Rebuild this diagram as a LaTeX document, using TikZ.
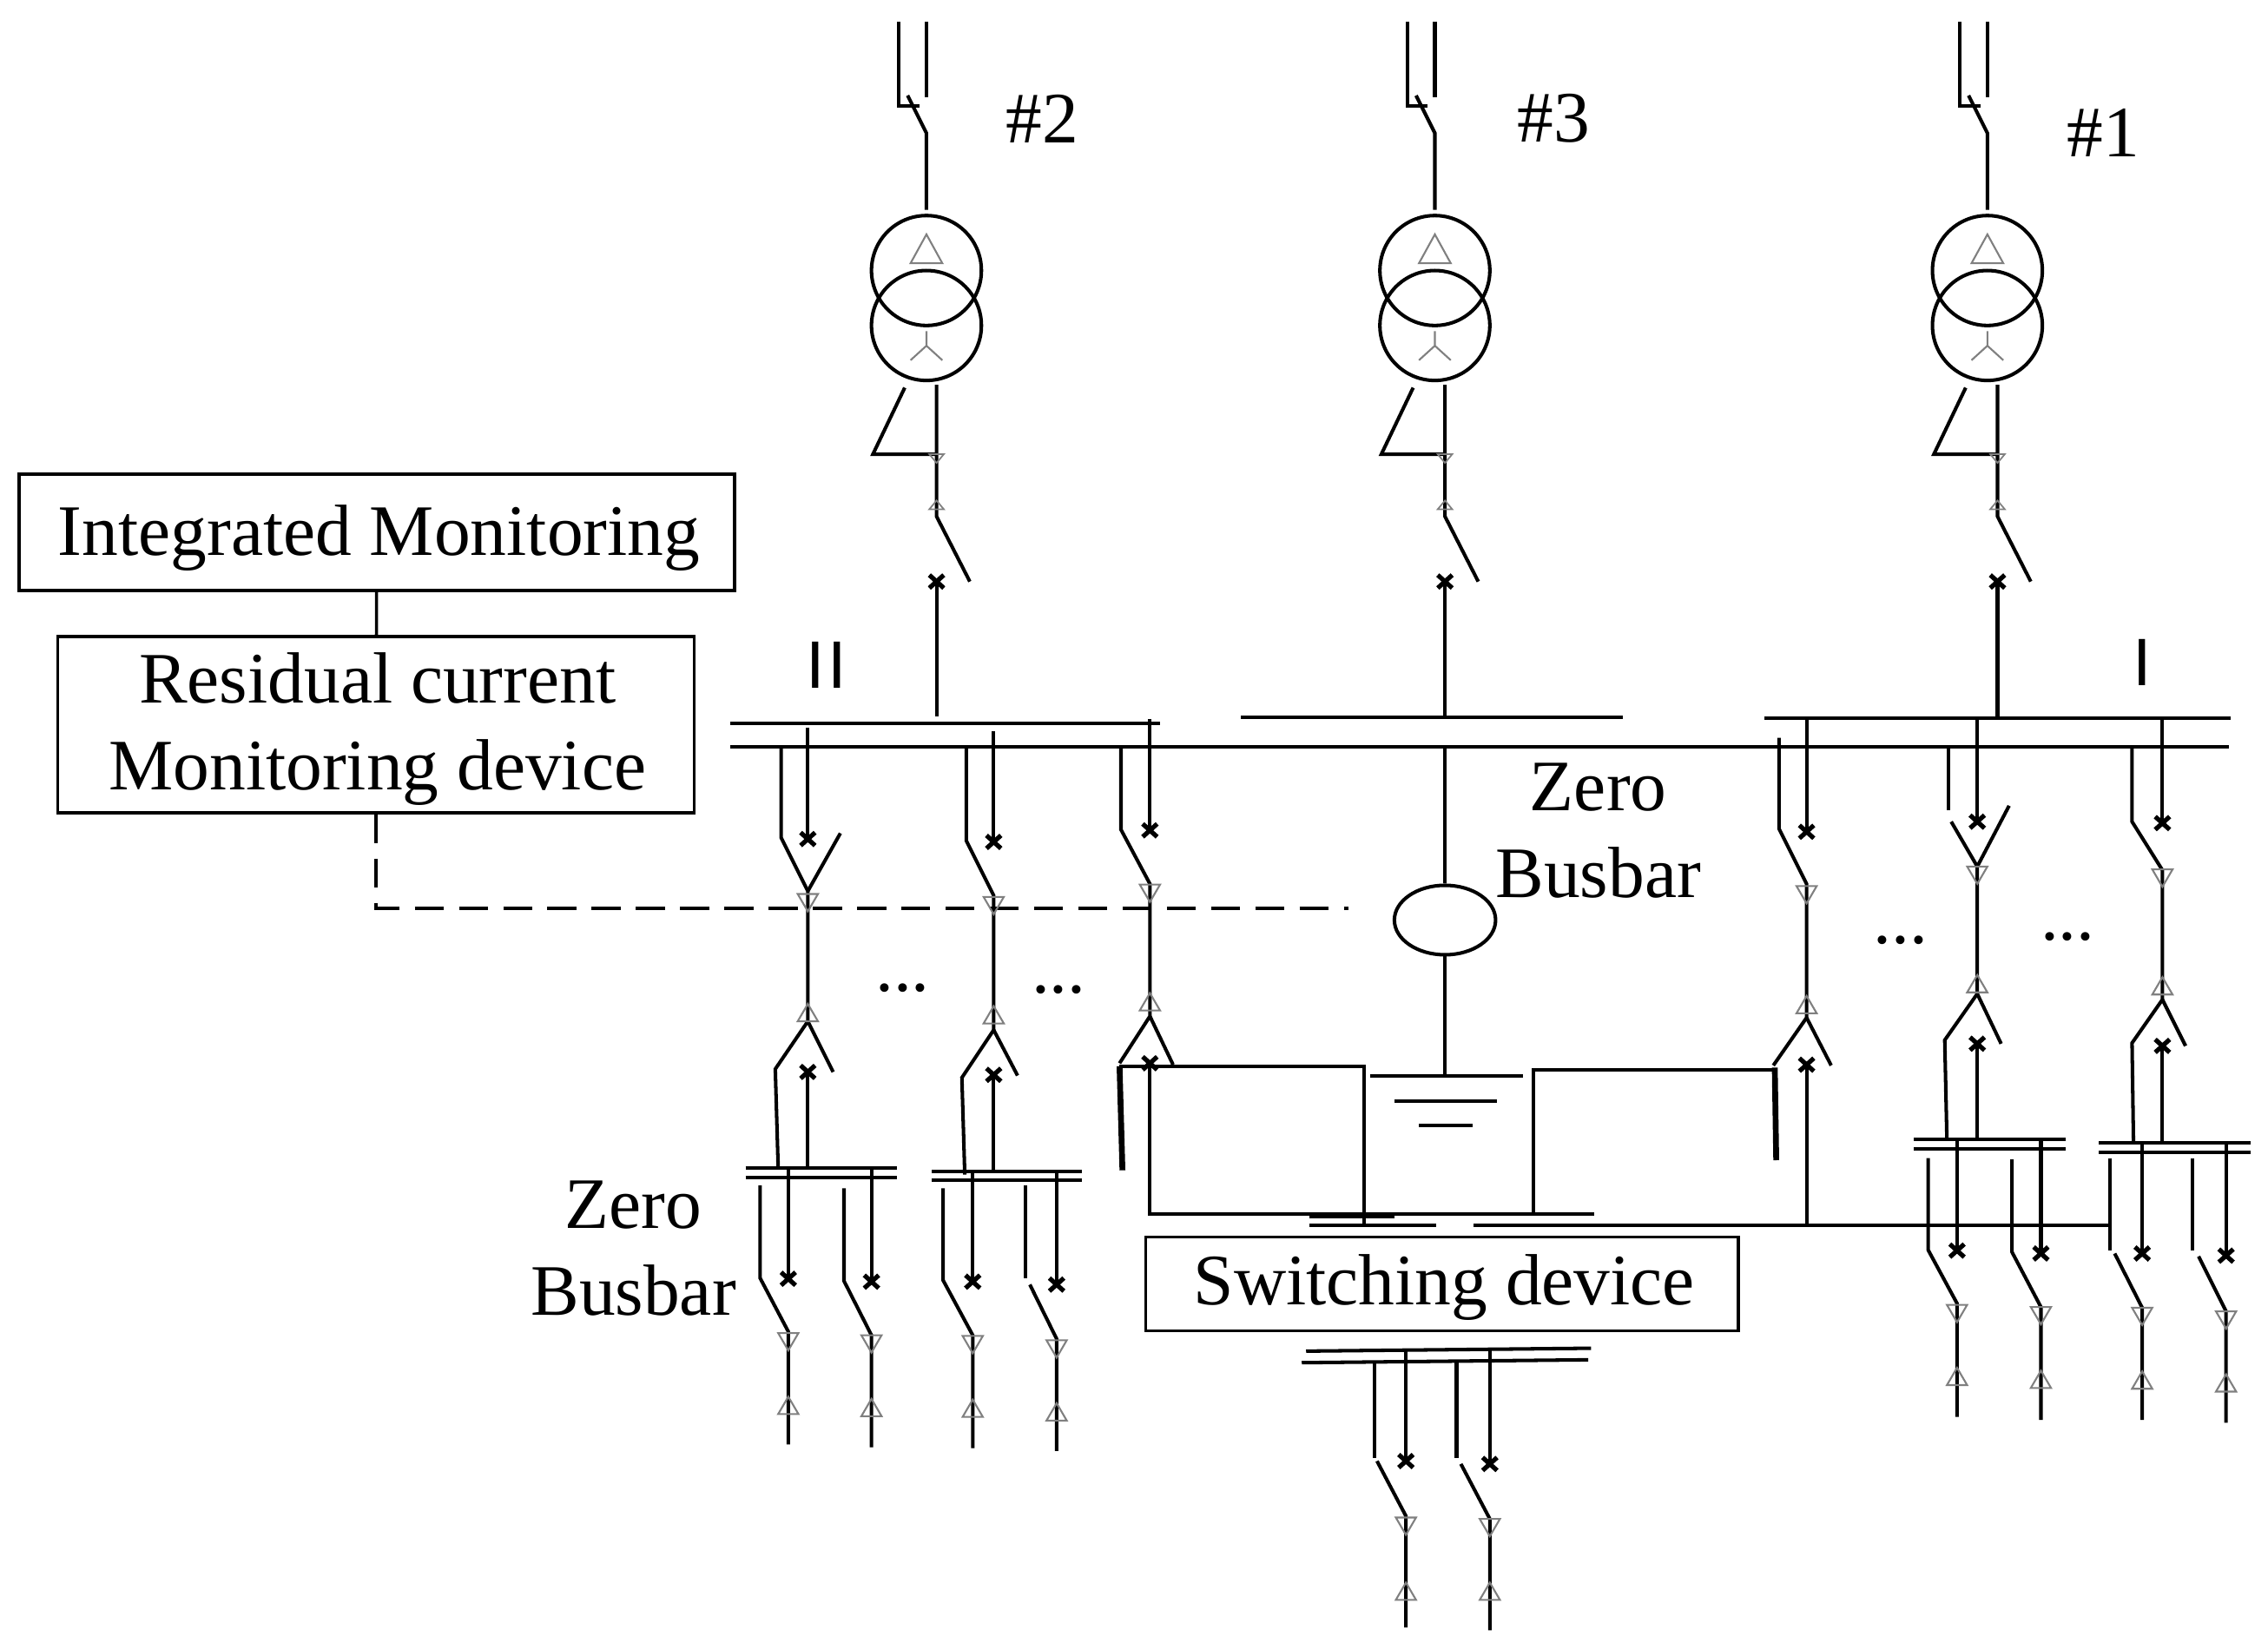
\documentclass[tikz,border=0pt]{standalone}
\usepackage{fontspec}
\setmainfont{Liberation Serif}
\newfontfamily\sansf{Liberation Sans}
\usetikzlibrary{shapes.geometric}

\tikzset{
  wire/.style={line width=1.15pt, line join=miter},
  thickwire/.style={line width=1.9pt},
  label/.style={font=\fontsize{23.75}{28.5}\selectfont, align=center, inner sep=0pt},
  seclabel/.style={font=\fontsize{22}{26}\sansf, inner sep=0pt},
  box/.style={draw, line width=1pt, inner sep=0pt},
  xmark/.pic={\draw[line width=1.5pt] (-5,-4.5) -- (5,4.5) (-5,4.5) -- (5,-4.5);},
  trid/.pic={\draw[gray, line width=0.6pt] (-7,0) -- (7,0) -- (0,12) -- cycle;},
  triu/.pic={\draw[gray, line width=0.6pt] (-7,0) -- (7,0) -- (0,-12) -- cycle;},
  % one incoming unit: x=0 is the transformer axis, y is absolute
  unit/.pic={
    \draw[wire] (-19,15) -- (-19,73) -- (-5,73);
    \draw[wire] (0,15) -- (0,67);
    \draw[wire] (-13,66) -- (0,92) -- (0,145);
    \draw[wire] (0,187) circle [radius=38];
    \draw[wire] (0,225) circle [radius=38];
    \draw[gray, line width=0.6pt] (0,162) -- (-11,182) -- (11,182) -- cycle;
    \draw[gray, line width=0.6pt] (0,229) -- (0,239) -- (-11,249) (0,239) -- (11,249);
    \draw[wire] (7,266) -- (7,357) -- (30,402);
    \draw[wire] (-15,268) -- (-37,314) -- (7,314);
    \draw[gray, line width=0.5pt] (2,314) -- (12,314) -- (7,320) -- cycle;
    \draw[gray, line width=0.5pt] (2,352) -- (12,352) -- (7,346) -- cycle;
    \draw[wire] (7,402) -- (7,495);
    \pic at (7,402) {xmark};
  }
}

\begin{document}
\begin{tikzpicture}[x=0.016658cm, y=-0.016658cm]
\useasboundingbox (0,0) rectangle (1568,1135.2);

% incoming units
\pic at (640.5,0) {unit};
\pic at (992,0) {unit};
\pic at (1374,0) {unit};
\node[label] (n2) at (720.5,82) {\#2};
\node[label] (n3) at (1074,82) {\#3};
\node[label] (n1) at (1454,92) {\#1};
\node[seclabel] (secII) at (571.5,460) {I\kern1pt I};
\node[seclabel] (secI) at (1481,458) {I};

% main busbars
\draw[wire] (505,500) -- (802,500);
\draw[wire] (858,496) -- (1122,496);
\draw[wire] (1220,496.5) -- (1542,496.5);
\draw[wire] (505,516) -- (1541,516);

% monitoring boxes
\node[box, minimum width=8.246cm, minimum height=1.34cm] (im) at (260.5,368) {};
\node[label] (imt) at (262,372) {Integrated Monitoring};
\node[box, minimum width=7.33cm, minimum height=2.03cm] (rc) at (260,501) {};
\node[label] (rct) at (261,504) {Residual current\\Monitoring device};
\coordinate (dashend) at (932,628);
\draw[line width=1pt] (im) -- (rc);
\draw[line width=1.1pt, dash pattern=on 9.5pt off 5pt] (rc.south) -- (260,628) -- (dashend);

% bays of section II
\draw[wire] (540,516) -- (540,579) -- (558.5,616) -- (558.5,706) -- (536,739) -- (538,807.5);
\draw[wire] (581,576) -- (558.5,616);
\draw[wire] (558.5,706) -- (576,741);
\draw[wire] (558.5,503) -- (558.5,580);
\draw[wire] (558.5,741) -- (558.5,807.5);

\draw[wire] (668,516) -- (668,581) -- (687,619) -- (687,712) -- (665,745) -- (667,812);
\draw[wire] (687,712) -- (703.5,743.5);
\draw[wire] (687,505.5) -- (687,582);
\draw[wire] (687,743) -- (687,810);

\draw[wire] (775,516) -- (775,573.5) -- (795,611) -- (795,702.5) -- (774,735);
\draw[wire] (795,702.5) -- (811,736);
\draw[wire] (795,497) -- (795,574);
\draw[thickwire] (774,737) -- (776,809);

% feeders under section II
\draw[wire] (515.5,807.5) -- (620,807.5) (515.5,814) -- (620,814);
\draw[wire] (545,807.5) -- (545,884);
\draw[wire] (602.5,807.5) -- (602.5,886);
\draw[wire] (525.5,819.5) -- (525.5,883.5) -- (545,920.5) -- (545,998.5);
\draw[wire] (583.5,821.5) -- (583.5,885.5) -- (602.5,923) -- (602.5,1000.5);

\draw[wire] (644,810) -- (748,810) (644,816) -- (748,816);
\draw[wire] (672.5,810) -- (672.5,886);
\draw[wire] (730.5,810) -- (730.5,888);
\draw[wire] (652,821.5) -- (652,885) -- (672.5,923) -- (672.5,1001);
\draw[wire] (709,819.5) -- (709,883.5);
\draw[wire] (712,888) -- (730.5,925.5) -- (730.5,1003);

% zero sequence path and earthing
\node[draw, wire, ellipse, minimum width=1.166cm, minimum height=0.8cm, inner sep=0pt] (ct) at (999,636) {};
\coordinate (gnd) at (999,744);
\draw[wire] (999,516) -- (ct);
\draw[wire] (ct) -- (gnd);
\draw[wire] (947,744) -- (1053,744);
\draw[wire] (964,761) -- (1035,761);
\draw[wire] (981,778) -- (1018,778);
\draw[wire] (774,737) -- (943,737) -- (943,847);
\draw[wire] (795,735) -- (795,839) -- (1102,839);
\draw[thickwire] (905,840) -- (964,840);
\draw[wire] (1060,839) -- (1060,739.5) -- (1227,739.5);
\draw[wire] (905,847) -- (993,847);
\draw[wire] (1019,847) -- (1458,847);

% switching device and its feeders
\node[box, minimum width=6.83cm, minimum height=1.083cm] (sw) at (997,887.5) {};
\node[label] (swt) at (998.5,890) {Switching device};
\draw[wire] (903,934) -- (1100,932);
\draw[wire] (900,942) -- (1098,940);
\draw[wire] (972,933) -- (972,1010);
\draw[wire] (1030,933) -- (1030,1012);
\draw[wire] (950,942) -- (950,1008);
\draw[wire] (1007,942) -- (1007,1008);
\draw[wire] (952,1010) -- (972,1048) -- (972,1125);
\draw[wire] (1010,1012) -- (1030,1050) -- (1030,1127);

% bays of section I
\draw[wire] (1230,510) -- (1230,573) -- (1249,611) -- (1249,703.5) -- (1226,736.5);
\draw[wire] (1249,703.5) -- (1266,736.5);
\draw[wire] (1249,496.5) -- (1249,575);
\draw[wire] (1249,736) -- (1249,847);
\draw[thickwire] (1227,738) -- (1228,802);

\draw[wire] (1347,516) -- (1347,560);
\draw[wire] (1349,568) -- (1367,599) -- (1389,557);
\draw[wire] (1367,496.5) -- (1367,568);
\draw[wire] (1367,599) -- (1367,687) -- (1344.5,719) -- (1346,787.5);
\draw[wire] (1367,687) -- (1383.5,721.5);
\draw[wire] (1367,721.5) -- (1367,787.5);

\draw[wire] (1474,516) -- (1474,568) -- (1495,601.5) -- (1495,691) -- (1474,721) -- (1475,790);
\draw[wire] (1495,691) -- (1511,723);
\draw[wire] (1495,496.5) -- (1495,569);
\draw[wire] (1495,723) -- (1495,790);

% feeders under section I
\draw[wire] (1323,787.5) -- (1428,787.5) (1323,794) -- (1428,794);
\draw[wire] (1353,787.5) -- (1353,864.5);
\draw[wire] (1411,787.5) -- (1411,866.5);
\draw[wire] (1333,800.5) -- (1333,864) -- (1353,901) -- (1353,979.5);
\draw[wire] (1391,801.5) -- (1391,865.5) -- (1411,903.5) -- (1411,981.5);

\draw[wire] (1451,790) -- (1556,790) (1451,796.5) -- (1556,796.5);
\draw[wire] (1481,790) -- (1481,866.5);
\draw[wire] (1539,790) -- (1539,868);
\draw[wire] (1458.5,800.5) -- (1458.5,864.5);
\draw[wire] (1462,866.5) -- (1481,904) -- (1481,981.5);
\draw[wire] (1515.5,800.5) -- (1515.5,864.5);
\draw[wire] (1520,868.5) -- (1539,906.5) -- (1539,983.5);

% breaker crosses and contact triangles
\foreach \p in {(558.5,580),(558.5,741),(687,582),(687,743),(795,574),(795,735),(545,884),(602.5,886),(672.5,886),(730.5,888),(972,1010),(1030,1012),(1249,575),(1249,736),(1367,568),(1367,721.5),(1495,569),(1495,723),(1353,864.5),(1411,866.5),(1481,866.5),(1539,868)}
  \pic at \p {xmark};
\foreach \p in {(558.5,618),(687,620),(795,611.5),(545,921.5),(602.5,923),(672.5,923.5),(730.5,926.5),(972,1049),(1030,1050),(1249,612.5),(1367,599),(1495,601),(1353,902),(1411,903.5),(1481,904),(1539,906.5)}
  \pic at \p {trid};
\foreach \p in {(558.5,706),(687,707.5),(795,698.5),(545,977.5),(602.5,979),(672.5,979.5),(730.5,982),(972,1106),(1030,1106),(1249,700.5),(1367,686),(1495,687.5),(1353,957.5),(1411,959.5),(1481,960),(1539,962)}
  \pic at \p {triu};

% labels
\node[label] (zb1) at (1105,574) {Zero\\Busbar};
\node[label] (zb2) at (438,863) {Zero\\Busbar};
\node[label, anchor=base] (d1) at (624,685.5) {...};
\node[label, anchor=base] (d2) at (732,686.5) {...};
\node[label, anchor=base] (d3) at (1314,652) {...};
\node[label, anchor=base] (d4) at (1429.5,650) {...};
\end{tikzpicture}
\end{document}
